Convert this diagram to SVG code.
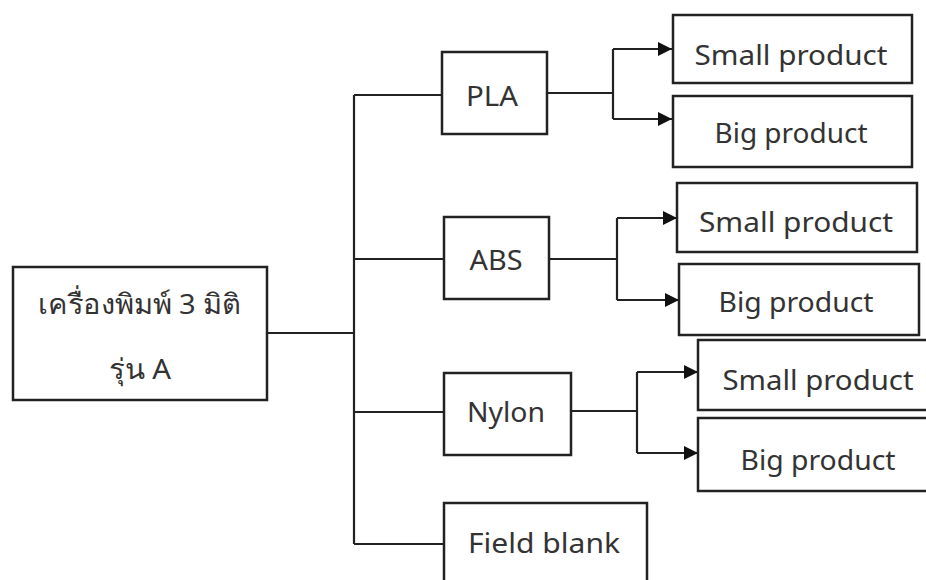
<svg xmlns="http://www.w3.org/2000/svg" width="926" height="580" viewBox="0 0 926 580">
<style>
.box{fill:#fff;stroke:#222;stroke-width:2.5}
.t{font-family:"Noto Sans","DejaVu Sans",sans-serif;font-size:27px;fill:#333;text-anchor:middle;dominant-baseline:central}
.th{font-size:28px}
.c{fill:none;stroke:#222;stroke-width:2.2}
</style>
<defs>
<marker id="ah" viewBox="0 0 14 14" refX="14" refY="7" markerWidth="14" markerHeight="14" markerUnits="userSpaceOnUse" orient="auto">
<path d="M0,0 L14,7 L0,14 z" fill="#111"/>
</marker>
</defs>
<rect x="0" y="0" width="926" height="580" fill="#fff"/>
<g id="connectors">
<path class="c" d="M267,333 H354"/>
<path class="c" d="M354,95 V544"/>
<path class="c" d="M354,95 H442"/>
<path class="c" d="M354,259 H444"/>
<path class="c" d="M354,412 H444"/>
<path class="c" d="M354,544 H444"/>
<path class="c" d="M547,93 H613"/>
<path class="c" d="M613,49 V119"/>
<path class="c" d="M613,49 H672" marker-end="url(#ah)"/>
<path class="c" d="M613,119 H672" marker-end="url(#ah)"/>
<path class="c" d="M549,259 H617"/>
<path class="c" d="M617,218 V300"/>
<path class="c" d="M617,218 H677" marker-end="url(#ah)"/>
<path class="c" d="M617,300 H679" marker-end="url(#ah)"/>
<path class="c" d="M572,411 H637"/>
<path class="c" d="M637,372 V453"/>
<path class="c" d="M637,372 H698" marker-end="url(#ah)"/>
<path class="c" d="M637,453 H698" marker-end="url(#ah)"/>
</g>
<g id="root">
<rect class="box" x="13" y="267" width="254" height="133"/>
<text class="t th" x="139" y="303" textLength="203" lengthAdjust="spacingAndGlyphs">เครื่องพิมพ์ 3 มิติ</text>
<text class="t th" x="140" y="368" textLength="62" lengthAdjust="spacingAndGlyphs">รุ่น A</text>
</g>
<g id="pla">
<rect class="box" x="442" y="52" width="105" height="82"/>
<text class="t" x="492" y="95" textLength="52" lengthAdjust="spacingAndGlyphs">PLA</text>
</g>
<g id="abs">
<rect class="box" x="444" y="217" width="105" height="82"/>
<text class="t" x="496" y="259" textLength="53" lengthAdjust="spacingAndGlyphs">ABS</text>
</g>
<g id="nylon">
<rect class="box" x="444" y="373" width="127" height="82"/>
<text class="t" x="506" y="411" textLength="78" lengthAdjust="spacingAndGlyphs">Nylon</text>
</g>
<g id="field">
<rect class="box" x="444" y="503" width="203" height="90"/>
<text class="t" x="544" y="542" textLength="152" lengthAdjust="spacingAndGlyphs">Field blank</text>
</g>
<g id="pla-small">
<rect class="box" x="673" y="15" width="239" height="68"/>
<text class="t" x="791" y="54" textLength="193" lengthAdjust="spacingAndGlyphs">Small product</text>
</g>
<g id="pla-big">
<rect class="box" x="673" y="96" width="239" height="71"/>
<text class="t" x="791" y="132" textLength="153" lengthAdjust="spacingAndGlyphs">Big product</text>
</g>
<g id="abs-small">
<rect class="box" x="677" y="183" width="240" height="69"/>
<text class="t" x="796" y="221" textLength="194" lengthAdjust="spacingAndGlyphs">Small product</text>
</g>
<g id="abs-big">
<rect class="box" x="679" y="264" width="240" height="71"/>
<text class="t" x="796" y="301" textLength="155" lengthAdjust="spacingAndGlyphs">Big product</text>
</g>
<g id="nylon-small">
<rect class="box" x="698" y="340" width="240" height="70"/>
<text class="t" x="818" y="379" textLength="191" lengthAdjust="spacingAndGlyphs">Small product</text>
</g>
<g id="nylon-big">
<rect class="box" x="698" y="418" width="240" height="73"/>
<text class="t" x="818" y="459" textLength="155" lengthAdjust="spacingAndGlyphs">Big product</text>
</g>
</svg>
